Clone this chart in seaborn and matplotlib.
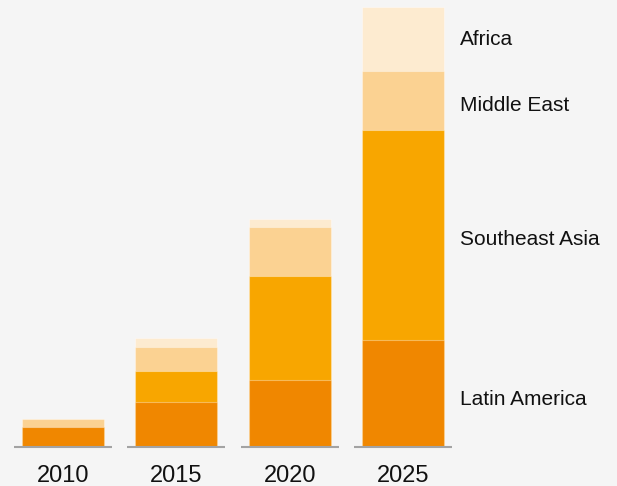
import pandas as pd
import numpy as np
import matplotlib
matplotlib.use("Agg")
import matplotlib.pyplot as plt
import seaborn as sns

# Data (arbitrary units; 2025 total = 100)
years = ["2010", "2015", "2020", "2025"]
latin_america = [4.6, 10.3, 15.2, 24.3]
southeast_asia = [0.0, 7.0, 23.6, 47.7]
middle_east = [1.7, 5.4, 11.1, 13.5]
africa = [0.0, 2.0, 2.0, 14.5]

regions = ["Latin America", "Southeast Asia", "Middle East", "Africa"]
colors = ["#f08700", "#f8a600", "#fbd292", "#fdebd0"]

df = pd.DataFrame({
    "Year": years,
    "Latin America": latin_america,
    "Southeast Asia": southeast_asia,
    "Middle East": middle_east,
    "Africa": africa,
})

# cumulative tops for stacking
cum = df[regions].cumsum(axis=1)

sns.set_style("white")
plt.rcParams["font.family"] = ["Liberation Sans", "DejaVu Sans"]

fig = plt.figure(figsize=(6.17, 4.86), dpi=100, facecolor="#f5f5f5")
ax = fig.add_axes([0, 0, 1, 1])
ax.set_facecolor("#f5f5f5")

# draw from the top of the stack down so lower segments overlay
for region, color in reversed(list(zip(regions, colors))):
    sns.barplot(x=df["Year"], y=cum[region], color=color, width=0.724,
                order=years, edgecolor=(1, 1, 1, 0.35), linewidth=0.8,
                saturation=1, ax=ax)

# grey baseline under each bar
for i in range(len(years)):
    ax.hlines(0, i - 0.432, i + 0.432, color="#a3a3a3", lw=1.5)

# year labels
for i, y in enumerate(years):
    ax.text(i, -6.6, y, ha="center", va="center", fontsize=17, color="#111111")

# region labels next to the last bar (small nudges to match the reference)
nudge = {"Latin America": -1.3, "Southeast Asia": -1.0, "Middle East": -1.2, "Africa": -0.2}
last = len(years) - 1
bottoms = [0] + list(cum.iloc[last, :-1])
for region, b in zip(regions, bottoms):
    mid = b + df.loc[last, region] / 2 + nudge[region]
    ax.text(last + 0.503, mid, region, ha="left", va="center",
            fontsize=15, color="#111111")

ax.set_xlim(-0.556, 4.888)
ax.set_ylim(-8.86, 101.59)
ax.set_xlabel("")
ax.set_ylabel("")
ax.set_xticks([])
ax.set_yticks([])
sns.despine(ax=ax, left=True, bottom=True)

fig.savefig("out.png", dpi=100, facecolor=fig.get_facecolor())
